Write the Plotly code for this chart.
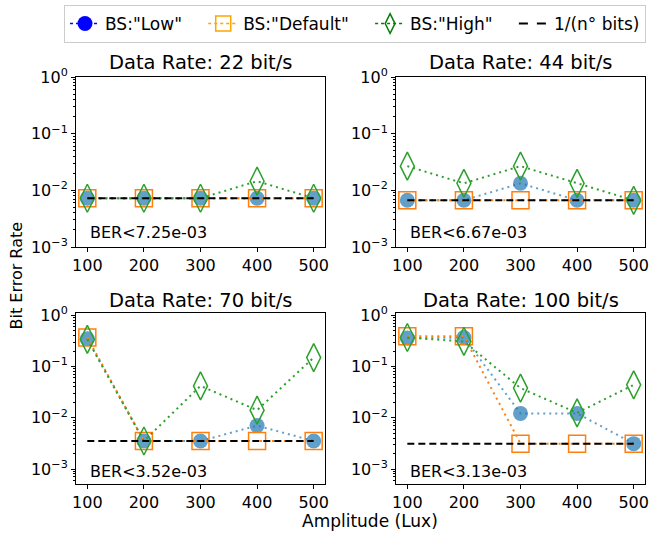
import plotly.graph_objects as go

amplitudes = [100, 200, 300, 400, 500]
rates = ["22", "44", "70", "100"]
ber_limit = [7.25e-3, 6.67e-3, 3.52e-3, 3.13e-3]

low = [
    [7.25e-3, 7.25e-3, 7.25e-3, 7.25e-3, 7.25e-3],
    [6.67e-3, 6.67e-3, 1.33e-2, 6.67e-3, 6.67e-3],
    [0.35, 3.52e-3, 3.52e-3, 7.04e-3, 3.52e-3],
    [0.36, 0.37, 1.22e-2, 1.22e-2, 3.13e-3],
]
default = [
    [7.25e-3, 7.25e-3, 7.25e-3, 7.25e-3, 7.25e-3],
    [6.67e-3, 6.67e-3, 6.67e-3, 6.67e-3, 6.67e-3],
    [0.37, 3.52e-3, 3.52e-3, 3.52e-3, 3.52e-3],
    [0.39, 0.39, 3.13e-3, 3.13e-3, 3.13e-3],
]
high = [
    [7.25e-3, 7.25e-3, 7.25e-3, 1.45e-2, 7.25e-3],
    [2.67e-2, 1.33e-2, 2.67e-2, 1.33e-2, 6.67e-3],
    [0.34, 3.52e-3, 4.2e-2, 1.41e-2, 0.15],
    [0.37, 0.31, 3.8e-2, 1.25e-2, 4.4e-2],
]

W, H = 652, 535


def xp(px):
    return px / W


def yp(py):
    return 1 - py / H


# subplot boxes in window pixels: (x0, x1, y0, y1) with y from top
boxes = [(76, 325, 77, 247), (396, 645, 77, 247), (76, 325, 313, 484), (396, 645, 313, 484)]
yranges = [[-3, 0], [-3, 0], [-3.293, 0.047], [-3.293, 0.047]]
title_y = [62, 62, 300, 300]
ber_y = [232.5, 232.5, 471, 471]

FONT = "DejaVu Sans"
fig = go.Figure()

C_LOW = "rgba(31,119,180,0.7)"
C_DEF = "#ff7f0e"
C_HIGH = "#2ca02c"

major_vals = [1e-3, 1e-2, 1e-1, 1]
major_text = ["10<sup>−3</sup>", "10<sup>−2</sup>", "10<sup>−1</sup>", "10<sup>0</sup>"]
minor_vals = [m * 10 ** e for e in (-4, -3, -2, -1) for m in range(2, 10)]

for i in range(4):
    xa = "x" if i == 0 else f"x{i+1}"
    ya = "y" if i == 0 else f"y{i+1}"
    fig.add_trace(go.Scatter(x=amplitudes, y=low[i], xaxis=xa, yaxis=ya, mode="lines+markers",
                             line=dict(color=C_LOW, width=2, dash="2px,4px"),
                             marker=dict(symbol="circle", size=15, color=C_LOW), showlegend=False))
    fig.add_trace(go.Scatter(x=amplitudes, y=default[i], xaxis=xa, yaxis=ya, mode="lines+markers",
                             line=dict(color=C_DEF, width=2, dash="2px,4px"),
                             marker=dict(symbol="square-open", size=17, color=C_DEF, line=dict(width=1.5)),
                             showlegend=False))
    fig.add_trace(go.Scatter(x=amplitudes, y=high[i], xaxis=xa, yaxis=ya, mode="lines+markers",
                             line=dict(color=C_HIGH, width=2, dash="2px,4px"),
                             marker=dict(symbol="diamond-tall-open", size=20, color=C_HIGH, line=dict(width=1.5)),
                             showlegend=False))
    fig.add_trace(go.Scatter(x=[amplitudes[0], amplitudes[-1]], y=[ber_limit[i], ber_limit[i]],
                             xaxis=xa, yaxis=ya, mode="lines",
                             line=dict(color="black", width=2, dash="7px,4px"), showlegend=False))

    x0, x1, y0, y1 = boxes[i]
    axkey = "xaxis" if i == 0 else f"xaxis{i+1}"
    aykey = "yaxis" if i == 0 else f"yaxis{i+1}"
    fig.update_layout(**{
        axkey: dict(domain=[xp(x0), xp(x1)], range=[80, 520], anchor=ya,
                    tickvals=amplitudes, ticks="outside", ticklen=4, tickcolor="black",
                    showline=True, linecolor="black", linewidth=1, mirror=True,
                    showgrid=False, zeroline=False, automargin=False, ticklabeloverflow="allow",
                    tickfont=dict(family=FONT, size=16, color="black")),
        aykey: dict(domain=[yp(y1), yp(y0)], type="log", range=yranges[i], anchor=xa,
                    tickmode="array", tickvals=major_vals, ticktext=major_text,
                    ticks="outside", ticklen=4, tickcolor="black",
                    minor=dict(tickmode="array", tickvals=minor_vals, ticks="outside", ticklen=2,
                               tickcolor="black", showgrid=False),
                    showline=True, linecolor="black", linewidth=1, mirror=True,
                    showgrid=False, zeroline=False, automargin=False,
                    tickfont=dict(family=FONT, size=16, color="black")),
    })
    fig.add_annotation(x=xp((x0 + x1) / 2), y=yp(title_y[i]), xref="paper", yref="paper",
                       text=f"Data Rate: {rates[i]} bit/s", showarrow=False,
                       font=dict(family=FONT, size=19.5, color="black"), xanchor="center", yanchor="middle")
    fig.add_annotation(x=xp(x0 + 12), y=yp(ber_y[i]), xref="paper", yref="paper",
                       text=f"BER<{ber_limit[i]:.2e}", showarrow=False,
                       font=dict(family=FONT, size=16, color="black"), xanchor="left", yanchor="middle")

# legend-only traces (trailing no-break spaces widen the gap between entries)
PAD = "\u00a0\u00a0\u00a0"
fig.add_trace(go.Scatter(x=[None], y=[None], mode="lines+markers", name='BS:"Low"' + PAD,
                         line=dict(color="blue", width=1.5, dash="dot"),
                         marker=dict(symbol="circle", size=15, color="blue")))
fig.add_trace(go.Scatter(x=[None], y=[None], mode="lines+markers", name='BS:"Default"' + PAD,
                         line=dict(color="orange", width=1.5, dash="dot"),
                         marker=dict(symbol="square-open", size=15, color="orange", line=dict(width=1.5))))
fig.add_trace(go.Scatter(x=[None], y=[None], mode="lines+markers", name='BS:"High"' + PAD,
                         line=dict(color="green", width=1.5, dash="dot"),
                         marker=dict(symbol="diamond-tall-open", size=14, color="green", line=dict(width=1.5))))
fig.add_trace(go.Scatter(x=[None], y=[None], mode="lines", name="1/(n° bits)",
                         line=dict(color="black", width=2, dash="dash")))

fig.add_annotation(x=xp(15.5), y=yp(276), xref="paper", yref="paper", text="Bit Error Rate",
                   textangle=-90, showarrow=False, xanchor="center", yanchor="middle",
                   font=dict(family=FONT, size=16, color="black"))
fig.add_annotation(x=xp(370), y=yp(521), xref="paper", yref="paper", text="Amplitude (Lux)",
                   showarrow=False, xanchor="center", yanchor="middle",
                   font=dict(family=FONT, size=17, color="black"))

fig.update_layout(
    width=W, height=H, margin=dict(l=0, r=0, t=0, b=0, autoexpand=False),
    paper_bgcolor="white", plot_bgcolor="white",
    showlegend=True,
    legend=dict(orientation="h", x=xp(64), y=yp(5), xanchor="left", yanchor="top",
                bordercolor="#cccccc", borderwidth=1, bgcolor="white",
                font=dict(family=FONT, size=17, color="black"),
                itemwidth=30, tracegroupgap=0),
)

fig.write_html("out.html", config={"displayModeBar": False},
               post_script="document.body.style.margin='0';document.body.style.overflow='hidden';")
